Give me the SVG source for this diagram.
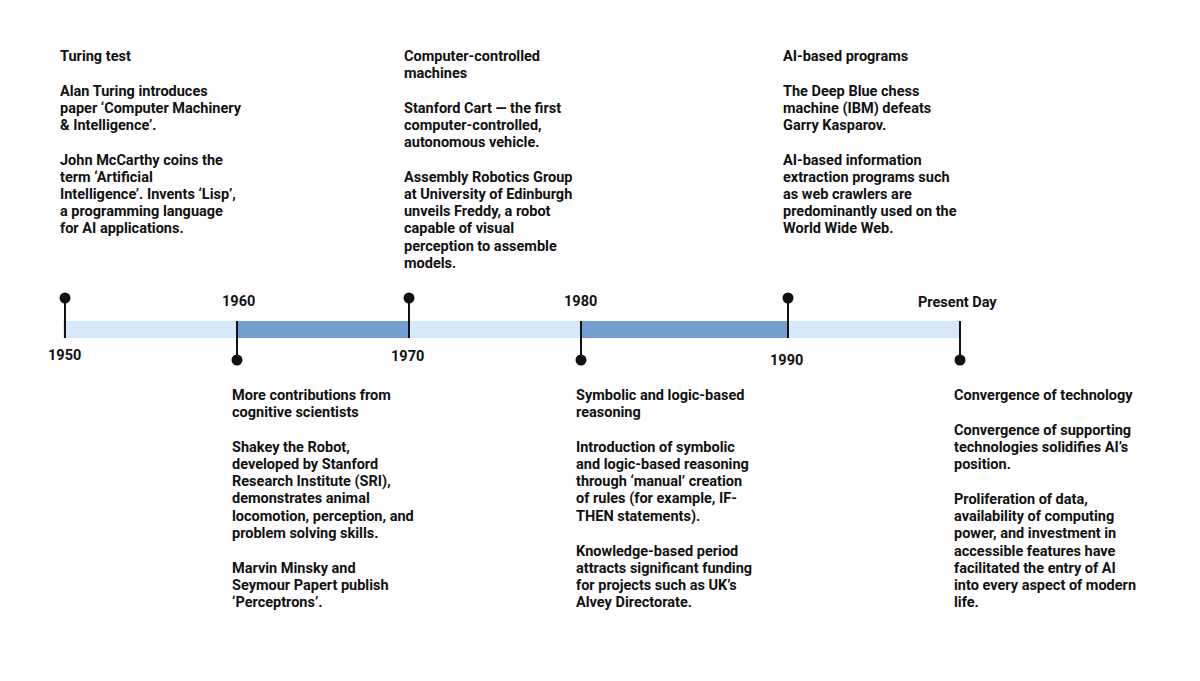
<svg xmlns="http://www.w3.org/2000/svg" width="1200" height="681" viewBox="0 0 1200 681">
<style>
text{font-family:Roboto,"Liberation Sans",sans-serif;font-weight:700;font-size:14.5px;fill:#111}
.st{stroke:#111;stroke-width:2}
</style>
<rect width="1200" height="681" fill="#fff"/>
<g id="bar">
<rect x="63" y="321" width="897" height="17" fill="#d6e8fb"/>
<rect x="237" y="321" width="172" height="17" fill="#739fd0"/>
<rect x="581" y="321" width="207" height="17" fill="#739fd0"/>
</g>
<g id="connectors">
<line class="st" x1="65" y1="298" x2="65" y2="338"/><circle cx="65" cy="298" r="5.5" fill="#111"/>
<line class="st" x1="237" y1="321" x2="237" y2="360"/><circle cx="237" cy="360" r="5.5" fill="#111"/>
<line class="st" x1="409" y1="298" x2="409" y2="338"/><circle cx="409" cy="298" r="5.5" fill="#111"/>
<line class="st" x1="581" y1="321" x2="581" y2="360"/><circle cx="581" cy="360" r="5.5" fill="#111"/>
<line class="st" x1="788" y1="298" x2="788" y2="338"/><circle cx="788" cy="298" r="5.5" fill="#111"/>
<line class="st" x1="960" y1="321" x2="960" y2="360"/><circle cx="960" cy="360" r="5.5" fill="#111"/>
</g>
<g id="years">
<text x="48" y="360">1950</text>
<text x="222" y="306">1960</text>
<text x="391" y="361">1970</text>
<text x="564" y="306">1980</text>
<text x="770" y="365">1990</text>
<text x="918" y="307">Present Day</text>
</g>
<g id="n1950"><text x="60" y="61">Turing test</text>
<text x="60" y="96">Alan Turing introduces</text><text x="60" y="113">paper ‘Computer Machinery</text><text x="60" y="130">&amp; Intelligence’.</text>
<text x="60" y="165">John McCarthy coins the</text><text x="60" y="182">term ‘Artificial</text><text x="60" y="199">Intelligence’. Invents ‘Lisp’,</text><text x="60" y="216">a programming language</text><text x="60" y="233">for AI applications.</text></g>
<g id="n1970"><text x="404" y="61">Computer-controlled</text><text x="404" y="78">machines</text>
<text x="404" y="113">Stanford Cart — the first</text><text x="404" y="130">computer-controlled,</text><text x="404" y="147">autonomous vehicle.</text>
<text x="404" y="182">Assembly Robotics Group</text><text x="404" y="199">at University of Edinburgh</text><text x="404" y="216">unveils Freddy, a robot</text><text x="404" y="233">capable of visual</text><text x="404" y="251">perception to assemble</text><text x="404" y="268">models.</text></g>
<g id="n1990"><text x="783" y="61">AI-based programs</text>
<text x="783" y="96">The Deep Blue chess</text><text x="783" y="113">machine (IBM) defeats</text><text x="783" y="130">Garry Kasparov.</text>
<text x="783" y="165">AI-based information</text><text x="783" y="182">extraction programs such</text><text x="783" y="199">as web crawlers are</text><text x="783" y="216">predominantly used on the</text><text x="783" y="233">World Wide Web.</text></g>
<g id="n1960"><text x="232" y="400">More contributions from</text><text x="232" y="417">cognitive scientists</text>
<text x="232" y="452">Shakey the Robot,</text><text x="232" y="469">developed by Stanford</text><text x="232" y="486">Research Institute (SRI),</text><text x="232" y="503">demonstrates animal</text><text x="232" y="521">locomotion, perception, and</text><text x="232" y="538">problem solving skills.</text>
<text x="232" y="573">Marvin Minsky and</text><text x="232" y="590">Seymour Papert publish</text><text x="232" y="607">‘Perceptrons’.</text></g>
<g id="n1980"><text x="576" y="400">Symbolic and logic-based</text><text x="576" y="417">reasoning</text>
<text x="576" y="452">Introduction of symbolic</text><text x="576" y="469">and logic-based reasoning</text><text x="576" y="486">through ‘manual’ creation</text><text x="576" y="503">of rules (for example, IF-</text><text x="576" y="521">THEN statements).</text>
<text x="576" y="556">Knowledge-based period</text><text x="576" y="573">attracts significant funding</text><text x="576" y="590">for projects such as UK’s</text><text x="576" y="607">Alvey Directorate.</text></g>
<g id="npresent"><text x="954" y="400">Convergence of technology</text>
<text x="954" y="435">Convergence of supporting</text><text x="954" y="452">technologies solidifies AI’s</text><text x="954" y="469">position.</text>
<text x="954" y="504">Proliferation of data,</text><text x="954" y="521">availability of computing</text><text x="954" y="538">power, and investment in</text><text x="954" y="556">accessible features have</text><text x="954" y="573">facilitated the entry of AI</text><text x="954" y="590">into every aspect of modern</text><text x="954" y="607">life.</text></g>
</svg>
